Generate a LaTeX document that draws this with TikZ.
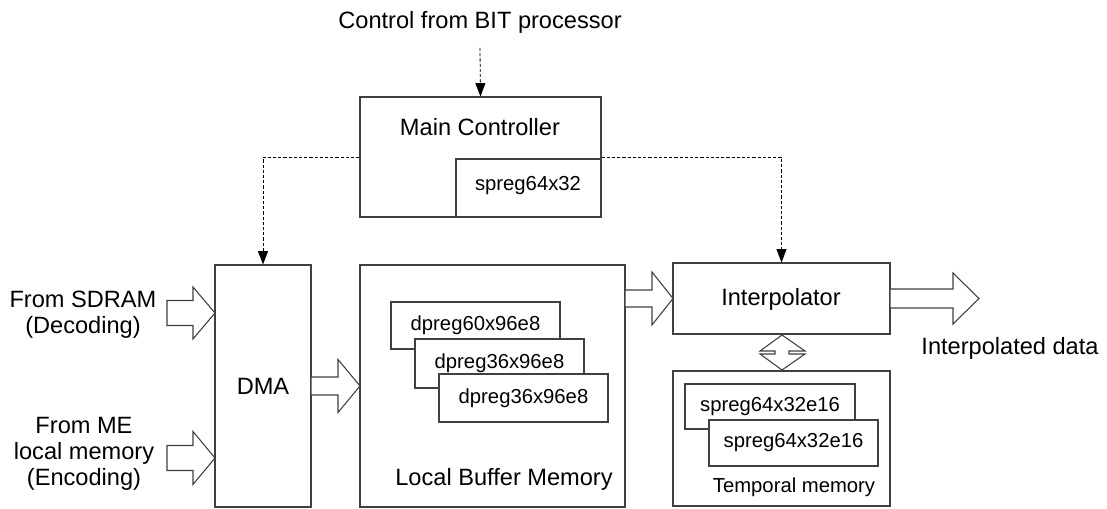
\documentclass[tikz,border=0pt]{standalone}
\usepackage{fontspec}
\setmainfont{Liberation Sans}
\usetikzlibrary{fit,arrows.meta}
\begin{document}
\begin{tikzpicture}[x=0.75pt,y=-0.75pt,
  box/.style={draw=black!75, line width=0.8pt, fill=white, inner sep=0pt},
  big/.style={font=\fontsize{17.7}{19.5}\selectfont, inner sep=0pt, align=center},
  small/.style={font=\fontsize{15.2}{18}\selectfont, inner sep=0pt},
  ctrl/.style={draw=black, line width=0.6pt, dash pattern=on 2.4pt off 1.5pt,
    -{Triangle[length=10pt,width=7.5pt]}},
  blk/.style={draw=black!75, line width=0.8pt, fill=white, line join=miter}]
\useasboundingbox (0,0) rectangle (1107,509);
\newcommand{\barrowshape}[6]{%
  \draw[blk] (#1,#4-#5) -- (#2,#4-#5) -- (#2,#4-#6) -- (#3,#4) -- (#2,#4+#6)
    -- (#2,#4+#5) -- (#1,#4+#5) -- cycle;}

% main controller
\node[box, fit={(360,97) (601,217)}] (mc) {};
\node[box, fit={(456,159) (601,217)}] (sp) {};
\node[big] (mct) at (480,127) {Main Controller};
\node[small] (spt) at (528,186) {spreg64x32};

% control input
\node[big] (ctl) at (480,22) {Control from BIT processor};
\coordinate (cs) at (480,48);
\draw[ctrl] (cs) -- (mc.north);

% DMA
\node[box, fit={(215,265) (311,507)}] (dma) {};
\node[big] (dmat) at (263,386) {DMA};

% Local buffer memory
\node[box, fit={(360,265) (625,507)}] (lbm) {};
\node[box, fit={(391,302) (560,349)}] (d1) {};
\node[small] at (d1.center) {dpreg60x96e8};
\node[box, fit={(415,339) (584,388)}] (d2) {};
\node[small] at (d2.center) {dpreg36x96e8};
\node[box, fit={(439,374) (608,422)}] (d3) {};
\node[small] at (d3.center) {dpreg36x96e8};
\node[big] (lbmt) at (504,479) {Local Buffer Memory};

% Interpolator
\node[box, fit={(673,263) (890,334)}] (ip) {};
\node[big] (ipt) at (781,299) {Interpolator};

% Temporal memory
\node[box, fit={(673,371) (890,506)}] (tm) {};
\node[box, fit={(685,384) (855,429)}] (s1) {};
\node[small] at (s1.center) {spreg64x32e16};
\node[box, fit={(709,420) (878,466)}] (s2) {};
\node[small] at (s2.center) {spreg64x32e16};
\node[small] (tmt) at (794,487) {Temporal memory};

% control lines
\draw[ctrl] (mc.west) -| (dma.north);
\draw[ctrl] (mc.east) -| (ip.north);

% input texts
\node[big] (in1) at (83,315) {From SDRAM\\(Decoding)};
\node[big] (in2) at (84,454) {From ME\\local memory\\(Encoding)};
\node[big] (outt) at (1010,348) {Interpolated data};

% block arrows
\barrowshape{167}{193}{215}{313}{12.5}{26}
\barrowshape{167}{193}{215}{458}{12.5}{26.5}
\barrowshape{311}{338}{360}{386}{9}{26.5}
\barrowshape{625}{652}{673}{298.5}{8.5}{26.5}
\barrowshape{890}{953}{979}{298.5}{9.5}{25.5}

% double arrow between interpolator and temporal memory
\draw[blk] (782,335) -- (805,351) -- (789,351) -- (789,354) -- (805,354)
  -- (782,370) -- (760,354) -- (775,354) -- (775,351) -- (760,351) -- cycle;
\end{tikzpicture}
\end{document}
